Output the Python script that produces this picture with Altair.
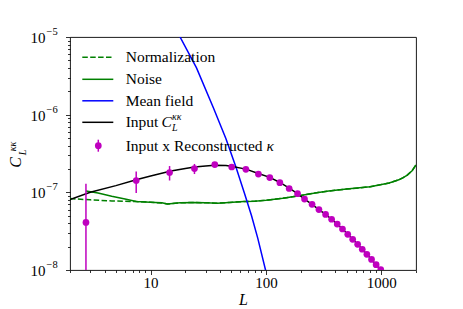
import altair as alt
import pandas as pd

# ---------------- data ----------------
norm_L = [2, 3, 4.6, 7.5, 10, 12.5, 14, 15.5, 18, 24, 30, 38, 48, 64, 80, 100, 140, 200,
          275, 350, 500, 800, 1170, 1420, 1550, 1680, 1850, 2000]
norm_v = [8.3e-8, 8.0e-8, 7.75e-8, 7.6e-8, 7.45e-8, 7.3e-8, 7.1e-8, 7.2e-8, 7.35e-8, 7.4e-8,
          7.35e-8, 7.25e-8, 7.4e-8, 7.6e-8, 7.7e-8, 7.9e-8, 8.4e-8, 9.1e-8, 9.9e-8, 1.04e-7,
          1.1e-7, 1.18e-7, 1.32e-7, 1.45e-7, 1.55e-7, 1.67e-7, 1.9e-7, 2.25e-7]

noise_L = [2.75, 3.5, 4.6, 6, 7.5, 9, 11, 12.5, 14, 15.5, 18, 24, 30, 38, 48, 64, 80, 100,
           140, 200, 275, 350, 500, 800, 1170, 1420, 1550, 1680, 1850, 2000]
noise_v = [1.04e-7, 9.8e-8, 8.9e-8, 8.2e-8, 7.6e-8, 7.5e-8, 7.4e-8, 7.35e-8, 7.1e-8, 7.2e-8,
           7.35e-8, 7.4e-8, 7.35e-8, 7.25e-8, 7.4e-8, 7.6e-8, 7.7e-8, 7.9e-8, 8.4e-8, 9.1e-8,
           9.9e-8, 1.04e-7, 1.1e-7, 1.18e-7, 1.32e-7, 1.45e-7, 1.55e-7, 1.67e-7, 1.9e-7, 2.25e-7]

mf_L = [10, 18, 25, 35, 45, 55, 65, 75, 85, 100, 110]
mf_v = [6.9e-5, 1e-5, 4.0e-6, 1.23e-6, 4.9e-7, 2.1e-7, 9.8e-8, 5.0e-8, 2.55e-8, 9.5e-9, 5.4e-9]

inp_L = [2, 3, 5, 7.5, 10, 15, 20, 24, 30, 36, 45, 50, 67, 86, 108, 132, 159, 188, 216, 251,
         288, 329, 371, 415, 461, 512, 565, 624, 684, 750, 823, 902, 989, 1100]
inp_v = [8.1e-8, 1.0e-7, 1.22e-7, 1.45e-7, 1.62e-7, 1.88e-7, 2.03e-7, 2.12e-7, 2.19e-7,
         2.23e-7, 2.21e-7, 2.16e-7, 1.99e-7, 1.75e-7, 1.56e-7, 1.34e-7, 1.13e-7, 9.6e-8,
         8.2e-8, 7.0e-8, 6.0e-8, 5.2e-8, 4.5e-8, 3.9e-8, 3.37e-8, 2.88e-8, 2.48e-8, 2.14e-8,
         1.85e-8, 1.59e-8, 1.37e-8, 1.17e-8, 1.01e-8, 8.4e-9]

pt_L = [2.75, 7.5, 14.6, 24, 36, 50.5, 67, 86, 108, 132, 159, 188, 216, 251, 288, 329, 371,
        415, 461, 512, 565, 624, 684, 750, 823, 902, 989, 1085]
pt_v = [4.1e-8, 1.42e-7, 1.8e-7, 2.02e-7, 2.28e-7, 2.12e-7, 1.98e-7, 1.72e-7, 1.55e-7,
        1.33e-7, 1.12e-7, 9.6e-8, 8.2e-8, 7.0e-8, 6.0e-8, 5.2e-8, 4.5e-8, 3.9e-8, 3.37e-8,
        2.88e-8, 2.48e-8, 2.14e-8, 1.85e-8, 1.59e-8, 1.37e-8, 1.17e-8, 1.01e-8, 8.6e-9]
pt_err = [8.8e-8, 4.4e-8, 3.8e-8, 3.0e-8, 1.0e-8, 8e-9, 6e-9, 5e-9, 4e-9, 3e-9, 2.5e-9, 2e-9,
          1.5e-9, 1.2e-9, 1e-9, 8e-10, 7e-10, 6e-10, 5e-10, 4e-10, 3.5e-10, 3e-10, 2.5e-10,
          2e-10, 1.8e-10, 1.5e-10, 1.3e-10, 1.1e-10]

x_ticks = [2, 3, 4, 5, 6, 7, 8, 9, 10, 20, 30, 40, 50, 60, 70, 80, 90, 100,
           200, 300, 400, 500, 600, 700, 800, 900, 1000, 2000]
y_ticks = [1e-8, 2e-8, 3e-8, 4e-8, 5e-8, 6e-8, 7e-8, 8e-8, 9e-8,
           1e-7, 2e-7, 3e-7, 4e-7, 5e-7, 6e-7, 7e-7, 8e-7, 9e-7,
           1e-6, 2e-6, 3e-6, 4e-6, 5e-6, 6e-6, 7e-6, 8e-6, 9e-6, 1e-5]
y_major = [1e-8, 1e-7, 1e-6, 1e-5]
y_major_exp = ["\u22128", "\u22127", "\u22126", "\u22125"]

legend_labels = ["Normalization", "Noise", "Mean field", "Input", "Input x Reconstructed"]

# ---------------- styling ----------------
GREEN = "#008000"
BLUE = "#0000ff"
MAG = "#bf00bf"
SERIF = "Liberation Serif"
W, H = 346, 233

major_test = "abs(log(datum.value)/LN10 - round(log(datum.value)/LN10)) < 0.001"
xscale = alt.Scale(type="log", domain=[2, 2000], nice=False)
yscale = alt.Scale(type="log", domain=[1e-8, 1e-5], nice=False)

xaxis = alt.Axis(
    values=x_ticks, labelExpr=f"({major_test}) ? format(datum.value, 'd') : ''",
    tickSize={"condition": {"test": major_test, "value": 4.5}, "value": 2.5},
    tickColor="black", tickWidth=0.8, domain=False, grid=False,
    labelFont=SERIF, labelFontSize=15, labelColor="black", labelPadding=1,
    labelFlush=False, labelOverlap=False,
    title="L", titleFont=SERIF, titleFontSize=16, titleFontStyle="italic",
    titleFontWeight="normal", titleColor="black", titlePadding=1,
)
yaxis = alt.Axis(
    values=y_ticks, labels=False,
    tickSize={"condition": {"test": major_test, "value": 4.5}, "value": 2.5},
    tickColor="black", tickWidth=0.8, domain=False, grid=False, title="",
)

x_enc = alt.X("L:Q", scale=xscale, axis=xaxis)
y_enc = alt.Y("v:Q", scale=yscale, axis=yaxis)

df_norm = pd.DataFrame({"L": norm_L, "v": norm_v})
df_noise = pd.DataFrame({"L": noise_L, "v": noise_v})
df_mf = pd.DataFrame({"L": mf_L, "v": mf_v})
df_inp = pd.DataFrame({"L": inp_L, "v": inp_v})
df_pt = pd.DataFrame({"L": pt_L, "v": pt_v, "e": pt_err})
df_pt["lo"] = [max(a - b, 1e-9) for a, b in zip(pt_v, pt_err)]
df_pt["hi"] = [a + b for a, b in zip(pt_v, pt_err)]

norm = alt.Chart(df_norm).mark_line(color=GREEN, strokeWidth=1.5, strokeDash=[5.5, 2.4], clip=True).encode(
    x=x_enc, y=y_enc, order="L:Q")
noise = alt.Chart(df_noise).mark_line(color=GREEN, strokeWidth=1.5, clip=True).encode(
    x=x_enc, y=y_enc, order="L:Q")
mf = alt.Chart(df_mf).mark_line(color=BLUE, strokeWidth=1.5, clip=True).encode(
    x=x_enc, y=y_enc, order="L:Q")
inp = alt.Chart(df_inp).mark_line(color="black", strokeWidth=1.5, clip=True).encode(
    x=x_enc, y=y_enc, order="L:Q")
err = alt.Chart(df_pt).mark_rule(color=MAG, strokeWidth=1.5, clip=True).encode(
    x=x_enc, y=alt.Y("lo:Q", scale=yscale, axis=yaxis), y2="hi:Q")
pts = alt.Chart(df_pt).mark_point(color=MAG, filled=True, shape="circle", size=45, opacity=1, clip=True).encode(
    x=x_enc, y=y_enc)

# y tick labels (10 with superscript exponent)
df_ylab = pd.DataFrame({"v": y_major, "exp": y_major_exp})
ylab_base = alt.Chart(df_ylab).mark_text(text="10", font=SERIF, fontSize=15, align="right",
                                         baseline="middle", dy=1, color="black").encode(
    x=alt.value(-24.5), y=y_enc)
ylab_exp = alt.Chart(df_ylab).mark_text(font=SERIF, fontSize=10.5, align="left",
                                        baseline="middle", dy=-5, color="black").encode(
    x=alt.value(-23.5), y=y_enc, text="exp:N")

one = pd.DataFrame({"k": [0]})


def txt(s, x, y, size=15.5, style="normal", align="left", angle=0):
    kw = dict(text=s, font=SERIF, fontSize=size, fontStyle=style, align=align,
              baseline="middle", color="black")
    if angle:
        kw["angle"] = angle
    return alt.Chart(one).mark_text(**kw).encode(x=alt.value(x), y=alt.value(y))


def hline(y, color, dash=None):
    kw = dict(color=color, strokeWidth=1.5)
    if dash:
        kw["strokeDash"] = dash
    return alt.Chart(one).mark_rule(**kw).encode(x=alt.value(12.3), x2=alt.value(43.3), y=alt.value(y))


rows = [20.3, 42.3, 63.8, 85.3, 108.7]
legend = [
    hline(rows[0], GREEN, [5.5, 2.4]),
    hline(rows[1], GREEN),
    hline(rows[2], BLUE),
    hline(rows[3], "black"),
    alt.Chart(one).mark_rule(color=MAG, strokeWidth=1.5).encode(
        x=alt.value(28.3), y=alt.value(102.7), y2=alt.value(114.7)),
    alt.Chart(one).mark_point(color=MAG, filled=True, shape="circle", size=45, opacity=1).encode(
        x=alt.value(28.3), y=alt.value(rows[4])),
    txt(legend_labels[0], 55.7, rows[0]),
    txt(legend_labels[1], 55.7, rows[1]),
    txt(legend_labels[2], 55.7, rows[2]),
    txt(legend_labels[3], 55.7, rows[3]),
    txt("C", 91.5, rows[3], style="italic"),
    txt("\u03ba\u03ba", 102.0, 80.0, size=10, style="italic"),
    txt("L", 102.0, 90.5, size=10, style="italic"),
    txt(legend_labels[4], 55.7, rows[4]),
    txt("\u03ba", 196.5, rows[4], style="italic"),
]

ytitle = [
    txt("C", -54.0, 125.5, size=16, style="italic", align="center", angle=270),
    txt("\u03ba\u03ba", -57.0, 109.5, size=10, style="italic", align="center", angle=270),
    txt("L", -47.0, 115.5, size=10, style="italic", align="center", angle=270),
]

chart = alt.layer(norm, noise, mf, inp, err, pts, ylab_base, ylab_exp, *legend, *ytitle).properties(
    width=W, height=H,
    padding={"left": 62, "top": 29, "right": 30, "bottom": 50},
    autosize=alt.AutoSizeParams(type="none"),
).configure_view(stroke="black", strokeWidth=0.9)

chart.save("out.html", embed_options={"renderer": "svg", "actions": False})
